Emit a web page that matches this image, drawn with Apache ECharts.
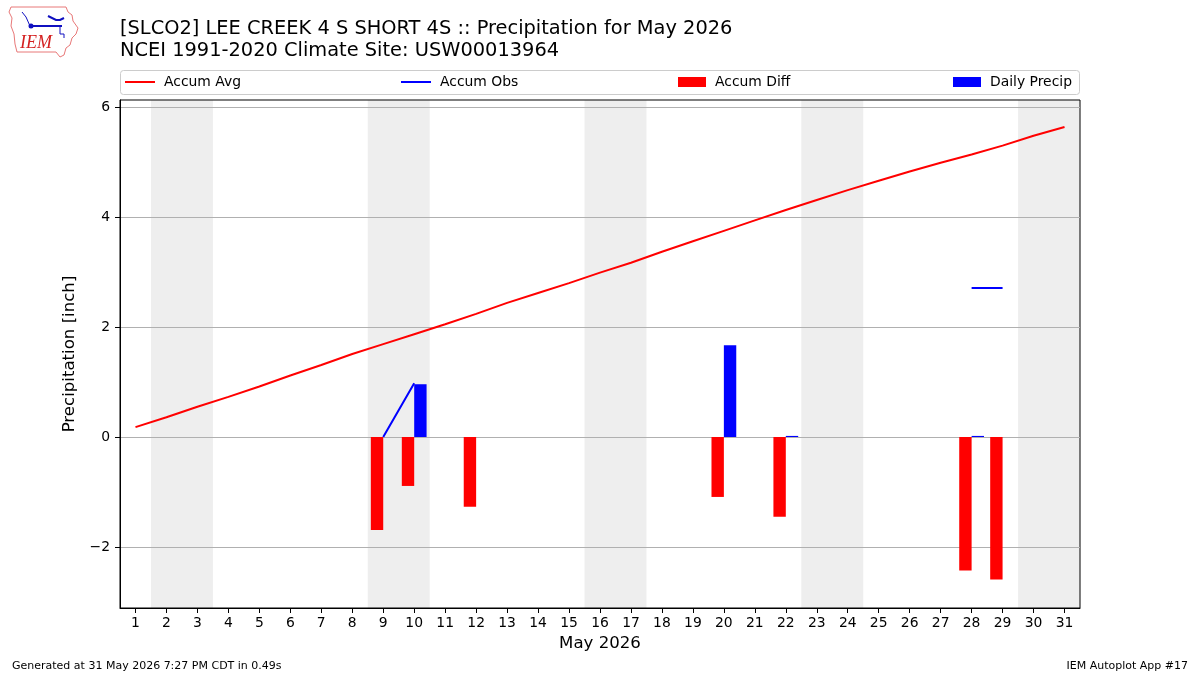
<!DOCTYPE html>
<html>
<head>
<meta charset="utf-8">
<script src="https://cdn.jsdelivr.net/npm/echarts@6/dist/echarts.min.js"></script>
<style>
  html, body { margin: 0; padding: 0; background: #fff; }
  #main { width: 1200px; height: 675px; }
</style>
</head>
<body>
<div id="main"></div>
<script>
// days of the month
var days = ['1','2','3','4','5','6','7','8','9','10','11','12','13','14','15','16',
  '17','18','19','20','21','22','23','24','25','26','27','28','29','30','31'];
// climatology accumulated average (inch)
var accumAvg = [0.18,0.36,0.55,0.73,0.92,1.12,1.31,1.51,1.69,1.87,2.05,2.24,2.44,2.62,2.80,2.99,
  3.17,3.37,3.56,3.75,3.94,4.13,4.31,4.49,4.66,4.83,4.99,5.14,5.30,5.48,5.64];
// observed accumulation (only where plotted)
var accumObs = [null,null,null,null,null,null,null,null,0.0,0.98,null,null,null,null,null,null,
  null,null,null,null,null,null,null,null,null,null,null,2.71,2.71,null,null];
// observed minus average
var accumDiff = [null,null,null,null,null,null,null,null,-1.69,-0.89,null,-1.27,null,null,null,null,
  null,null,null,-1.09,null,-1.45,null,null,null,null,null,-2.43,-2.59,null,null];
// daily precipitation
var dailyPrecip = [null,null,null,null,null,null,null,null,null,0.96,null,null,null,null,null,null,
  null,null,null,1.67,null,0.02,null,null,null,null,null,0.02,null,null,null];
// weekend shading spans [start, end] in day units
var weekends = [[1.5,3.5],[8.5,10.5],[15.5,17.5],[22.5,24.5],[29.5,31.5]];
var yTicks = [-2,0,2,4,6];

var chart = echarts.init(document.getElementById('main'), null, {renderer: 'canvas'});
var font = 'DejaVu Sans';

function legendItem(name, left, isLine) {
  return {
    show: true,
    left: left,
    top: 75,
    padding: 0,
    orient: 'horizontal',
    data: [name],
    icon: 'rect',
    itemWidth: isLine ? 30 : 28,
    itemHeight: isLine ? 2 : 10,
    selectedMode: false,
    textStyle: {fontFamily: font, fontSize: 13.9, color: '#000', padding: [0, 0, 0, 4]}
  };
}

chart.setOption({
  animation: false,
  backgroundColor: '#fff',
  textStyle: {fontFamily: font},
  grid: {
    left: 120, right: 120, top: 100, bottom: 67,
    show: true, borderColor: '#000', borderWidth: 1, backgroundColor: 'transparent'
  },
  legend: [
    legendItem('Accum Avg', 125, true),
    legendItem('Accum Obs', 401, true),
    legendItem('Accum Diff', 678, false),
    legendItem('Daily Precip', 953, false)
  ],
  xAxis: [
    {
      type: 'category',
      data: days,
      boundaryGap: true,
      name: 'May 2026',
      nameLocation: 'middle',
      nameGap: 27,
      nameTextStyle: {fontFamily: font, fontSize: 16.6, color: '#000'},
      axisLine: {show: true, onZero: false, lineStyle: {color: '#000', width: 1}},
      axisTick: {show: true, alignWithLabel: true, length: 5, lineStyle: {color: '#000'}},
      axisLabel: {fontFamily: font, fontSize: 13.9, color: '#000', margin: 8, interval: 0},
      splitLine: {show: false}
    },
    {
      type: 'value',
      min: 0.5,
      max: 31.5,
      show: false
    }
  ],
  yAxis: {
    type: 'value',
    min: -3.11,
    max: 6.13,
    name: 'Precipitation [inch]',
    nameLocation: 'middle',
    nameGap: 37,
    nameTextStyle: {fontFamily: font, fontSize: 16.6, color: '#000'},
    axisLine: {show: true, lineStyle: {color: '#000', width: 1}},
    axisTick: {show: true, length: 5, lineStyle: {color: '#000'}, customValues: yTicks},
    axisLabel: {
      fontFamily: font, fontSize: 13.9, color: '#000', margin: 10,
      customValues: yTicks,
      formatter: function (v) { return String(v).replace('-', '\u2212'); }
    },
    splitLine: {show: true, lineStyle: {color: '#b0b0b0', width: 1}}
  },
  series: [
    {
      name: 'weekend',
      type: 'custom',
      xAxisIndex: 1,
      yAxisIndex: 0,
      z: -1,
      silent: true,
      data: weekends,
      renderItem: function (params, api) {
        var p0 = api.coord([api.value(0), 0]);
        var p1 = api.coord([api.value(1), 0]);
        var cs = params.coordSys;
        return {
          type: 'rect',
          shape: {x: p0[0], y: cs.y, width: p1[0] - p0[0], height: cs.height},
          style: {fill: '#eeeeee'}
        };
      }
    },
    {
      name: 'Accum Avg',
      type: 'line',
      data: accumAvg,
      symbol: 'none',
      itemStyle: {color: '#ff0000'},
      lineStyle: {color: '#ff0000', width: 2},
      z: 5
    },
    {
      name: 'Accum Obs',
      type: 'line',
      data: accumObs,
      symbol: 'none',
      connectNulls: false,
      itemStyle: {color: '#0000ff'},
      lineStyle: {color: '#0000ff', width: 2},
      z: 5
    },
    {
      name: 'Accum Diff',
      type: 'bar',
      data: accumDiff,
      barWidth: '40%',
      barGap: '0%',
      itemStyle: {color: '#ff0000'},
      z: 4
    },
    {
      name: 'Daily Precip',
      type: 'bar',
      data: dailyPrecip,
      barWidth: '40%',
      barGap: '0%',
      itemStyle: {color: '#0000ff'},
      z: 4
    }
  ],
  graphic: [
    // legend frame
    {
      type: 'rect', z: -10, silent: true,
      shape: {x: 120.5, y: 70.5, width: 959, height: 24, r: 3},
      style: {fill: '#fff', stroke: '#cccccc', lineWidth: 1}
    },
    // titles
    {
      type: 'text', left: 120, top: 19,
      style: {text: '[SLCO2] LEE CREEK 4 S SHORT 4S :: Precipitation for May 2026', fill: '#000',
        font: '19.4px "DejaVu Sans"'}
    },
    {
      type: 'text', left: 120, top: 41,
      style: {text: 'NCEI 1991-2020 Climate Site: USW00013964', fill: '#000',
        font: '19.4px "DejaVu Sans"'}
    },
    // footer
    {
      type: 'text', left: 12, top: 661,
      style: {text: 'Generated at 31 May 2026 7:27 PM CDT in 0.49s', fill: '#000',
        font: '11px "DejaVu Sans"'}
    },
    {
      type: 'text', right: 12, top: 661,
      style: {text: 'IEM Autoplot App #17', fill: '#000', font: '11px "DejaVu Sans"'}
    },
    // rough IEM logo
    {
      type: 'polyline', silent: true,
      shape: {points: [[11,7],[66,7],[68,12],[72,15],[73,21],[78,28],[76,34],[72,38],[70,45],[66,48],[64,55],[60,57],[56,52],[17,52],[15,44],[14,34],[11,26],[12,18],[9,12],[11,7]]},
      style: {stroke: '#e87878', fill: 'none', lineWidth: 1}
    },
    {
      type: 'text', left: 20, top: 34,
      style: {text: 'IEM', fill: '#d42020', font: 'italic 18px "Liberation Serif"'}
    },
    {
      type: 'polyline', silent: true,
      shape: {points: [[30,26],[62,26]]},
      style: {stroke: '#1010c0', lineWidth: 2}
    },
    {
      type: 'polyline', silent: true,
      shape: {points: [[22,12],[26,17],[30,26]]},
      style: {stroke: '#1010c0', lineWidth: 1}
    },
    {
      type: 'polyline', silent: true,
      shape: {points: [[48,16],[56,20],[60,20],[64,18]]},
      style: {stroke: '#1010c0', lineWidth: 2}
    },
    {
      type: 'polyline', silent: true,
      shape: {points: [[60,26],[60,34],[64,34],[64,38]]},
      style: {stroke: '#1010c0', lineWidth: 1}
    },
    {
      type: 'circle', silent: true,
      shape: {cx: 31, cy: 26, r: 2.5},
      style: {fill: '#1010c0'}
    }
  ]
});
</script>
</body>
</html>
